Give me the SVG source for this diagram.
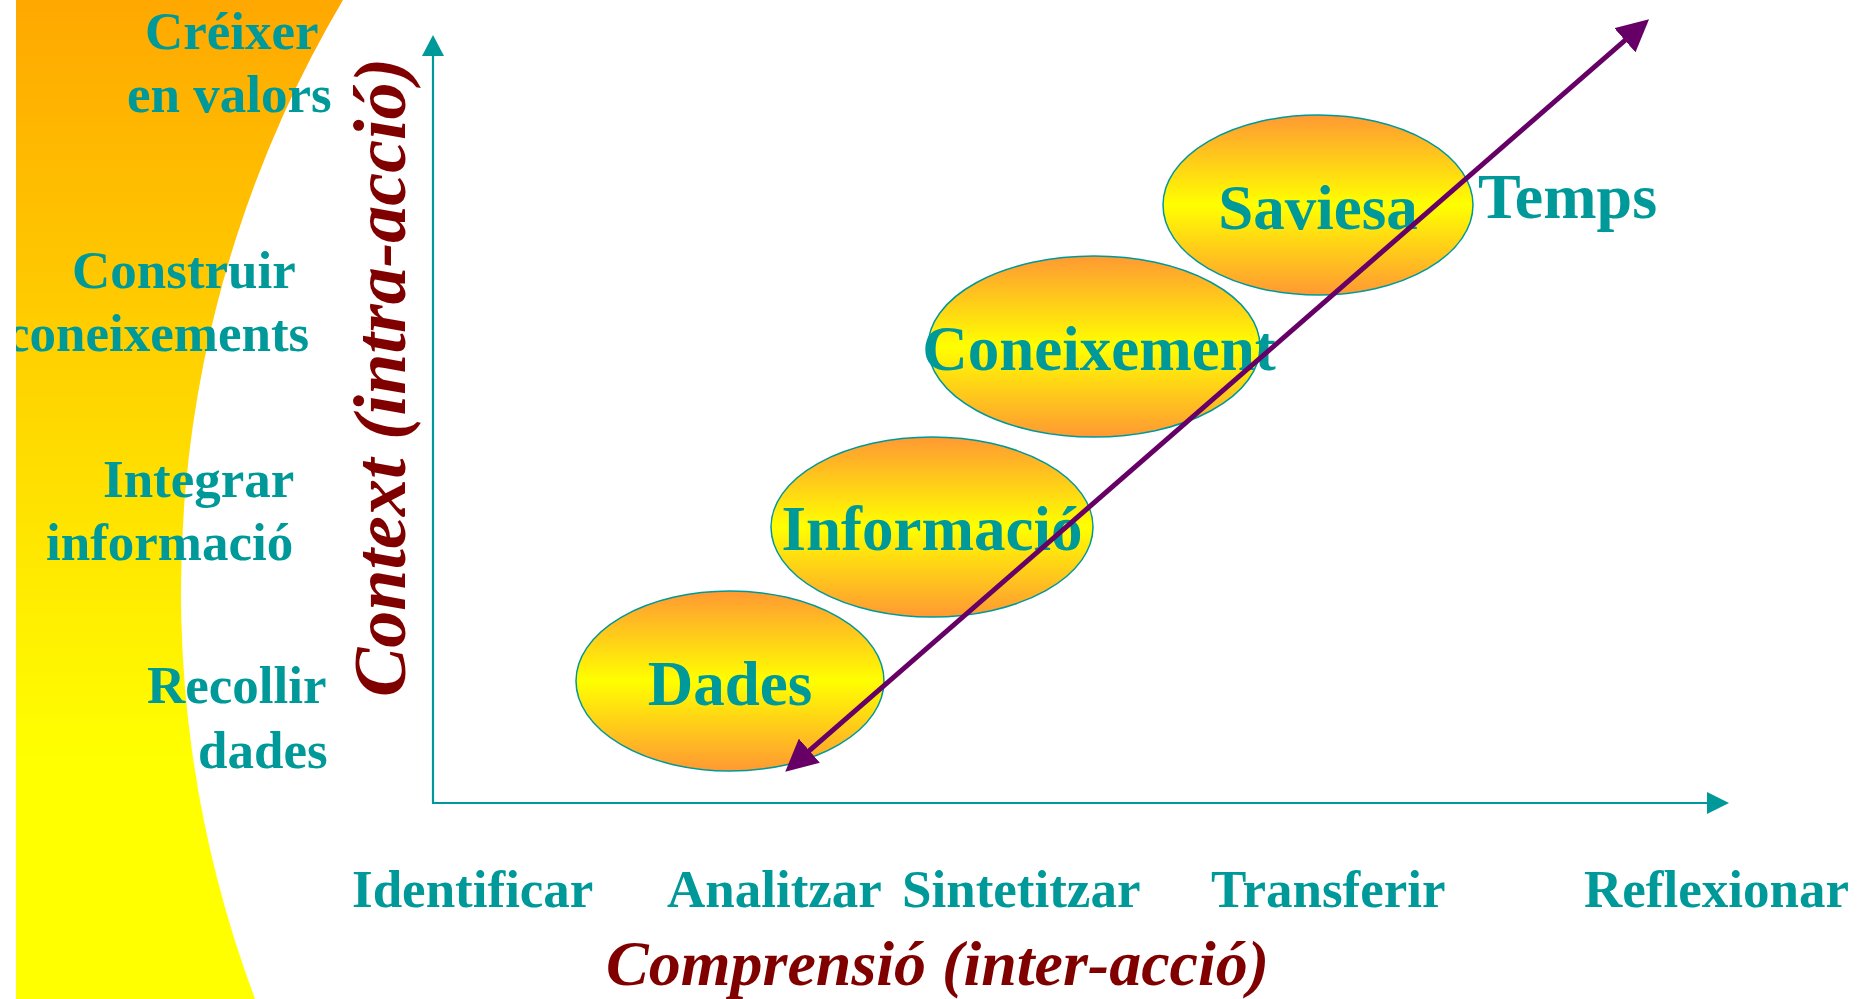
<svg xmlns="http://www.w3.org/2000/svg" width="1861" height="999" viewBox="0 0 1861 999">
  <style>
    .lbl { font-family: "Liberation Serif", "Times New Roman", serif; font-weight: bold; fill: #009999; font-size: 53px; }
    .node-text { font-family: "Liberation Serif", "Times New Roman", serif; font-weight: bold; fill: #009999; font-size: 63px; text-anchor: middle; }
    .axis-title { font-family: "Liberation Serif", "Times New Roman", serif; font-weight: bold; font-style: italic; fill: #800000; }
    .node-shape { fill: url(#nodeGrad); stroke: #009999; stroke-width: 1.5; }
    .axis { stroke: #009999; stroke-width: 2.2; fill: none; }
  </style>
  <defs>
    <linearGradient id="bgGrad" gradientUnits="userSpaceOnUse" x1="0" y1="0" x2="0" y2="760">
      <stop offset="0" stop-color="#FFA800"/>
      <stop offset="1" stop-color="#FFFF00"/>
    </linearGradient>
    <linearGradient id="nodeGrad" x1="0" y1="0" x2="0" y2="1">
      <stop offset="0" stop-color="#FF9933"/>
      <stop offset="0.5" stop-color="#FFFF00"/>
      <stop offset="1" stop-color="#FF9933"/>
    </linearGradient>
    <clipPath id="frame">
      <rect x="16" y="0" width="1845" height="999"/>
    </clipPath>
    <marker id="purpleHead" markerUnits="userSpaceOnUse" markerWidth="32" markerHeight="32" viewBox="0 0 30 30" refX="15" refY="15" orient="auto-start-reverse">
      <path d="M0,0 L30,15 L0,30 Z" fill="#660066"/>
    </marker>
  </defs>

  <rect x="0" y="0" width="1861" height="999" fill="#FFFFFF"/>

  <g id="background" clip-path="url(#frame)">
    <path d="M16,0 L343,0 A1160,1160 0 0 0 255,999 L16,999 Z" fill="url(#bgGrad)"/>
  </g>

  <g id="levels" clip-path="url(#frame)">
    <text class="lbl" x="145" y="49">Créixer</text>
    <text class="lbl" x="127" y="112">en valors</text>
    <text class="lbl" x="72" y="288">Construir</text>
    <text class="lbl" x="6" y="351">coneixements</text>
    <text class="lbl" x="103" y="497">Integrar</text>
    <text class="lbl" x="46" y="560">informació</text>
    <text class="lbl" x="147" y="703">Recollir</text>
    <text class="lbl" x="198" y="768">dades</text>
  </g>

  <g id="connectors">
    <path class="axis" d="M433,803 L433,55"/>
    <path d="M433,35 L422,56 L444,56 Z" fill="#009999"/>
    <path class="axis" d="M432,803 L1708,803"/>
    <path d="M1729,803 L1707,792 L1707,814 Z" fill="#009999"/>
  </g>

  <g id="node-dades">
    <ellipse class="node-shape" cx="730" cy="681" rx="154" ry="90"/>
    <text class="node-text" x="730" y="705">Dades</text>
  </g>
  <g id="node-informacio">
    <ellipse class="node-shape" cx="932" cy="527" rx="161" ry="90"/>
    <text class="node-text" x="932" y="550">Informació</text>
  </g>
  <g id="node-coneixement">
    <ellipse class="node-shape" cx="1094" cy="346.5" rx="166" ry="90.5"/>
    <text class="node-text" x="1099" y="370">Coneixement</text>
  </g>
  <g id="node-saviesa">
    <ellipse class="node-shape" cx="1318" cy="205" rx="155" ry="90"/>
    <text class="node-text" x="1318" y="229">Saviesa</text>
  </g>

  <g id="time-arrow">
    <path d="M797.3,761.2 L1637,29.8" stroke="#660066" stroke-width="5" fill="none" marker-start="url(#purpleHead)" marker-end="url(#purpleHead)"/>
    <text class="lbl" x="1478" y="218" style="font-size:64px">Temps</text>
  </g>

  <g id="axis-labels">
    <text class="lbl" x="352" y="907">Identificar</text>
    <text class="lbl" x="667" y="907">Analitzar</text>
    <text class="lbl" x="902" y="907">Sintetitzar</text>
    <text class="lbl" x="1211" y="907">Transferir</text>
    <text class="lbl" x="1584" y="907">Reflexionar</text>
    <text class="axis-title" x="606" y="985" style="font-size:64px">Comprensió (inter-acció)</text>
    <text class="axis-title" transform="translate(405,697) rotate(-90)" x="0" y="0" style="font-size:74px">Context (intra-acció)</text>
  </g>
</svg>
